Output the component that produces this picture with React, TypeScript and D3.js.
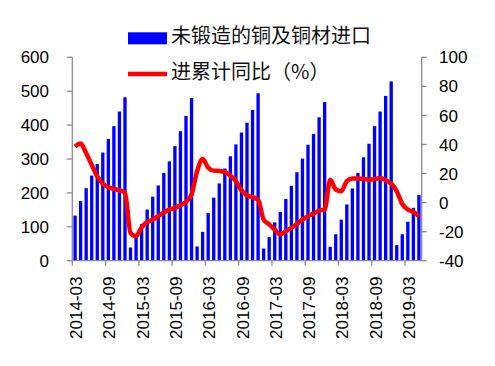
import React from "react";
import * as d3 from "d3";

const months: string[] = [];
for (let y = 2014; y <= 2019; y++) {
  for (let m = 1; m <= 12; m++) {
    if (y === 2014 && m < 3) continue;
    if (y === 2019 && m > 5) continue;
    months.push(`${y}-${String(m).padStart(2, "0")}`);
  }
}

const importVolume = [
  133, 176, 214, 251, 285, 319, 359, 397, 440, 482,
  39, 75, 108, 151, 189, 222, 259, 293, 338, 382, 427, 480,
  42, 85, 141, 186, 228, 272, 308, 343, 378, 407, 445, 494,
  36, 70, 113, 144, 182, 221, 261, 301, 342, 374, 423, 468,
  41, 78, 121, 166, 213, 259, 305, 345, 397, 440, 486, 529,
  46, 78, 115, 156, 194,
];

const yoyCum = [
  38.6, 40.6, 34, 26, 18, 13, 10.5, 9.4, 8.5, 7,
  -21, -23, -17, -13.5, -11.7, -9.4, -6.7, -4.8, -3.7, -1.8, 0.5, 5.5,
  21.6, 30, 24, 22, 21.8, 21, 18.6, 14.7, 8.5, 5, 3.7, 2,
  -11.7, -15, -18.6, -22, -19.7, -17.4, -14.7, -11.7, -9.4, -7.6, -5.5, -4.8,
  15.8, 9, 7.8, 14.8, 16.6, 16.6, 16.3, 15.8, 16, 17, 15.4, 13,
  7.8, -1, -4.8, -6.4, -9.4,
];

const leftTicks = [0, 100, 200, 300, 400, 500, 600];
const rightTicks = [-40, -20, 0, 20, 40, 60, 80, 100];
const xTickLabels = [
  "2014-03", "2014-09", "2015-03", "2015-09", "2016-03", "2016-09",
  "2017-03", "2017-09", "2018-03", "2018-09", "2019-03",
];

const legendBar = "未锻造的铜及铜材进口";
const legendLine = "进累计同比（%）";

export default function App() {
  const W = 495, H = 366;
  const left = 72.3, right = 421.7, top = 57.3, bottom = 260.7;
  const x = d3.scaleBand<string>().domain(months).range([left, right]).padding(0);
  const yL = d3.scaleLinear().domain([0, 600]).range([bottom, top]);
  const yR = d3.scaleLinear().domain([-40, 100]).range([bottom, top]);
  const bw = x.bandwidth();
  const barW = bw * 0.6;
  const line = d3
    .line<number>()
    .x((_, i) => (x(months[i]) as number) + bw / 2)
    .y((d) => yR(d))
    .curve(d3.curveMonotoneX);
  const axisColor = "#8c8c8c";
  const numFont = "'Liberation Sans', Arial, sans-serif";
  const cjkFont = "'Noto Sans CJK SC', sans-serif";

  const boundaryTicks = xTickLabels.map((l) => x(l) as number);

  return (
    <svg
      width={W}
      height={H}
      style={{ position: "absolute", left: 0, top: 0, background: "#fff" }}
    >
      {importVolume.map((v, i) => (
        <rect
          key={i}
          x={(x(months[i]) as number) + (bw - barW) / 2}
          y={yL(v)}
          width={barW}
          height={yL(0) - yL(v)}
          fill="#0000ff"
        />
      ))}
      <path d={line(yoyCum) || ""} fill="none" stroke="#ff0000" strokeWidth={4.5} strokeLinejoin="round" />

      <line x1={left} x2={left} y1={top} y2={bottom} stroke={axisColor} strokeWidth={1.3} />
      {leftTicks.map((t) => (
        <g key={t}>
          <line x1={left - 5.5} x2={left} y1={yL(t)} y2={yL(t)} stroke={axisColor} strokeWidth={1.3} />
          <text x={49} y={yL(t)} dy="0.36em" textAnchor="end" fontSize={17} fontFamily={numFont} fill="#000">
            {t}
          </text>
        </g>
      ))}
      <line x1={right} x2={right} y1={top} y2={bottom} stroke={axisColor} strokeWidth={1.3} />
      {rightTicks.map((t) => (
        <g key={t}>
          <line x1={right} x2={right + 5} y1={yR(t)} y2={yR(t)} stroke={axisColor} strokeWidth={1.3} />
          <text x={439} y={yR(t)} dy="0.36em" textAnchor="start" fontSize={17} fontFamily={numFont} fill="#000">
            {t}
          </text>
        </g>
      ))}
      <line x1={left} x2={right} y1={bottom} y2={bottom} stroke={axisColor} strokeWidth={1.3} />
      {boundaryTicks.map((bx, i) => (
        <line key={i} x1={bx} x2={bx} y1={bottom} y2={bottom + 5} stroke={axisColor} strokeWidth={1.3} />
      ))}
      {xTickLabels.map((l) => {
        const cx = (x(l) as number) + bw / 2 + 1;
        const ty = 276.5;
        return (
          <text
            key={l}
            transform={`translate(${cx},${ty}) rotate(-90)`}
            textAnchor="end"
            dy="0.36em"
            fontSize={17}
            fontFamily={numFont}
            fill="#000"
          >
            {l}
          </text>
        );
      })}

      <rect x={128} y={32.3} width={39} height={12} fill="#0000ff" />
      <text x={171} y={42.5} fontSize={20} fontFamily={cjkFont} fill="#111">
        {legendBar}
      </text>
      <line x1={128} x2={167} y1={74} y2={74} stroke="#ff0000" strokeWidth={4.5} />
      <text x={171} y={78.5} fontSize={20} fontFamily={cjkFont} fill="#111">
        {legendLine}
      </text>
    </svg>
  );
}
